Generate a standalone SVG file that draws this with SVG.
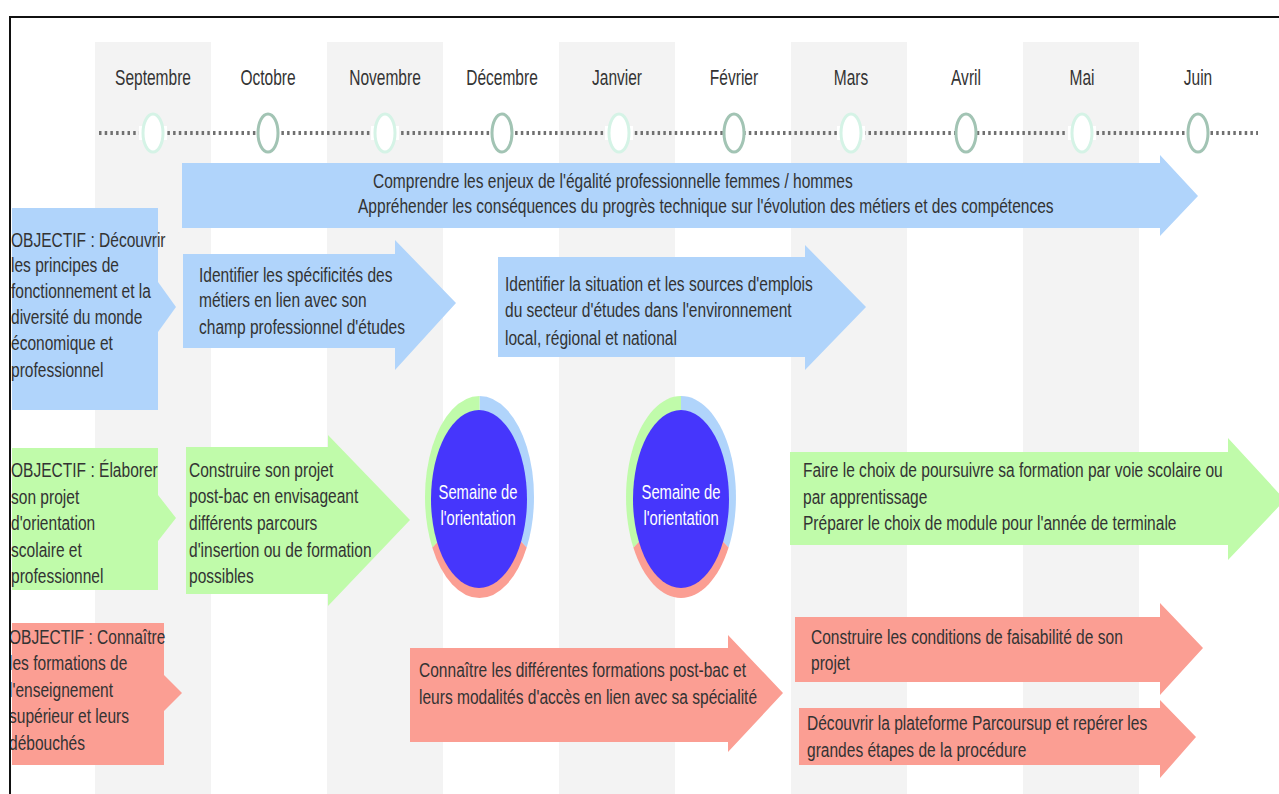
<svg xmlns="http://www.w3.org/2000/svg" width="1279" height="794" viewBox="0 0 1279 794">
<style>
.band{fill:#f3f3f3}
.month{font-family:"Liberation Sans",Arial,sans-serif;font-size:22px;fill:#333;text-anchor:middle}
.t{font-family:"Liberation Sans",Arial,sans-serif;font-size:21px;fill:#333}
.w{font-family:"Liberation Sans",Arial,sans-serif;font-size:21px;fill:#fff;text-anchor:middle}
.blue{fill:#b0d4fb}
.green{fill:#c0fbaa}
.red{fill:#fb9e93}
.cl{fill:#fff;stroke:#d5f3e6;stroke-width:3}
.cd{fill:#fff;stroke:#a2c4b4;stroke-width:3}
.gap{fill:#fff}
.dots{stroke:#707070;stroke-width:4;stroke-dasharray:2.5 3.2;fill:none}
</style>
<rect width="1279" height="794" fill="#fff"/>
<g id="bands">
<rect class="band" x="95" y="42" width="116" height="760"/>
<rect class="band" x="327" y="42" width="116" height="760"/>
<rect class="band" x="559" y="42" width="116" height="760"/>
<rect class="band" x="791" y="42" width="116" height="760"/>
<rect class="band" x="1023" y="42" width="116" height="760"/>
</g>
<g id="months">
<text class="month" transform="matrix(0.706 0 0 1 153 85)">Septembre</text>
<text class="month" transform="matrix(0.706 0 0 1 268 85)">Octobre</text>
<text class="month" transform="matrix(0.706 0 0 1 385 85)">Novembre</text>
<text class="month" transform="matrix(0.706 0 0 1 502 85)">Décembre</text>
<text class="month" transform="matrix(0.706 0 0 1 617 85)">Janvier</text>
<text class="month" transform="matrix(0.706 0 0 1 734 85)">Février</text>
<text class="month" transform="matrix(0.706 0 0 1 851 85)">Mars</text>
<text class="month" transform="matrix(0.706 0 0 1 966 85)">Avril</text>
<text class="month" transform="matrix(0.706 0 0 1 1082 85)">Mai</text>
<text class="month" transform="matrix(0.706 0 0 1 1198 85)">Juin</text>
</g>
<g id="timeline">
<line class="dots" x1="99" y1="133" x2="1258" y2="133"/>
<rect class="gap" x="139" y="126" width="28" height="14"/>
<rect class="gap" x="371" y="126" width="28" height="14"/>
<rect class="gap" x="605" y="126" width="28" height="14"/>
<rect class="gap" x="837" y="126" width="28" height="14"/>
<rect class="gap" x="1068" y="126" width="28" height="14"/>
<ellipse class="cl" cx="153" cy="133" rx="10" ry="19"/>
<ellipse class="cd" cx="268" cy="133" rx="10" ry="19"/>
<ellipse class="cl" cx="385" cy="133" rx="10" ry="19"/>
<ellipse class="cd" cx="502" cy="133" rx="10" ry="19"/>
<ellipse class="cl" cx="619" cy="133" rx="10" ry="19"/>
<ellipse class="cd" cx="734" cy="133" rx="10" ry="19"/>
<ellipse class="cl" cx="851" cy="133" rx="10" ry="19"/>
<ellipse class="cd" cx="966" cy="133" rx="10" ry="19"/>
<ellipse class="cl" cx="1082" cy="133" rx="10" ry="19"/>
<ellipse class="cd" cx="1198" cy="133" rx="10" ry="19"/>
</g>
<g id="obj-blue">
<rect class="blue" x="12" y="208" width="146" height="202"/>
<polygon class="blue" points="158,282 176,307 158,332"/>
<text class="t" transform="matrix(0.74 0 0 1 11 247)">OBJECTIF : Découvrir</text>
<text class="t" transform="matrix(0.74 0 0 1 11 272)">les principes de</text>
<text class="t" transform="matrix(0.74 0 0 1 11 298)">fonctionnement et la</text>
<text class="t" transform="matrix(0.74 0 0 1 11 324)">diversité du monde</text>
<text class="t" transform="matrix(0.74 0 0 1 11 350)">économique et</text>
<text class="t" transform="matrix(0.74 0 0 1 11 377)">professionnel</text>
</g>
<g id="arrow-egalite">
<polygon class="blue" points="182,163 1160,163 1160,155 1198,196 1160,236 1160,228 182,228"/>
<text class="t" transform="matrix(0.74 0 0 1 373 188)">Comprendre les enjeux de l'égalité professionnelle femmes / hommes</text>
<text class="t" transform="matrix(0.74 0 0 1 358 213)">Appréhender les conséquences du progrès technique sur l'évolution des métiers et des compétences</text>
</g>
<g id="arrow-metiers">
<polygon class="blue" points="183,254 395,254 395,240 456,303 395,370 395,348 183,348"/>
<text class="t" transform="matrix(0.74 0 0 1 199 282)">Identifier les spécificités des</text>
<text class="t" transform="matrix(0.74 0 0 1 199 307)">métiers en lien avec son</text>
<text class="t" transform="matrix(0.74 0 0 1 199 334)">champ professionnel d'études</text>
</g>
<g id="arrow-emplois">
<polygon class="blue" points="498,257 805,257 805,245 866,307 805,370 805,357 498,357"/>
<text class="t" transform="matrix(0.74 0 0 1 505 291)">Identifier la situation et les sources d'emplois</text>
<text class="t" transform="matrix(0.74 0 0 1 505 317)">du secteur d'études dans l'environnement</text>
<text class="t" transform="matrix(0.74 0 0 1 505 345)">local, régional et national</text>
</g>
<g id="obj-green">
<rect class="green" x="12" y="448" width="146" height="142"/>
<polygon class="green" points="158,495 176,518 158,541"/>
<text class="t" transform="matrix(0.74 0 0 1 11 477)">OBJECTIF : Élaborer</text>
<text class="t" transform="matrix(0.74 0 0 1 11 504)">son projet</text>
<text class="t" transform="matrix(0.74 0 0 1 11 530)">d'orientation</text>
<text class="t" transform="matrix(0.74 0 0 1 11 557)">scolaire et</text>
<text class="t" transform="matrix(0.74 0 0 1 11 583)">professionnel</text>
</g>
<g id="arrow-projet">
<polygon class="green" points="186,447 328,447 328,435 410,520 328,606 328,594 186,594"/>
<text class="t" transform="matrix(0.74 0 0 1 189 477)">Construire son projet</text>
<text class="t" transform="matrix(0.74 0 0 1 189 503)">post-bac en envisageant</text>
<text class="t" transform="matrix(0.74 0 0 1 189 530)">différents parcours</text>
<text class="t" transform="matrix(0.74 0 0 1 189 557)">d'insertion ou de formation</text>
<text class="t" transform="matrix(0.74 0 0 1 189 583)">possibles</text>
</g>
<g id="semaine-1">
<path d="M479.5,497 L479.5,396 A54.5,101 0 0 1 526.7,547.5 Z" fill="#b0d4fb"/>
<path d="M479.5,497 L526.7,547.5 A54.5,101 0 0 1 432.3,547.5 Z" fill="#fb9e93"/>
<path d="M479.5,497 L432.3,547.5 A54.5,101 0 0 1 479.5,396 Z" fill="#c0fbaa"/>
<ellipse cx="479" cy="499" rx="48" ry="89" fill="#4636fc"/>
<text class="w" transform="matrix(0.705 0 0 1 478 499)">Semaine de</text>
<text class="w" transform="matrix(0.705 0 0 1 478 525)">l'orientation</text>
</g>
<g id="semaine-2">
<path d="M681,497 L681,396 A55,101 0 0 1 728.6,547.5 Z" fill="#b0d4fb"/>
<path d="M681,497 L728.6,547.5 A55,101 0 0 1 633.4,547.5 Z" fill="#fb9e93"/>
<path d="M681,497 L633.4,547.5 A55,101 0 0 1 681,396 Z" fill="#c0fbaa"/>
<ellipse cx="681" cy="499" rx="48" ry="89" fill="#4636fc"/>
<text class="w" transform="matrix(0.705 0 0 1 681 499)">Semaine de</text>
<text class="w" transform="matrix(0.705 0 0 1 681 525)">l'orientation</text>
</g>
<g id="arrow-choix">
<polygon class="green" points="790,452 1228,452 1228,438 1285,500 1228,560 1228,545 790,545"/>
<text class="t" transform="matrix(0.74 0 0 1 803 477)">Faire le choix de poursuivre sa formation par voie scolaire ou</text>
<text class="t" transform="matrix(0.74 0 0 1 803 504)">par apprentissage</text>
<text class="t" transform="matrix(0.74 0 0 1 803 530)">Préparer le choix de module pour l'année de terminale</text>
</g>
<g id="obj-red">
<rect class="red" x="12" y="623" width="152" height="142"/>
<polygon class="red" points="164,675 182,693 164,711"/>
<text class="t" transform="matrix(0.74 0 0 1 9 644)">OBJECTIF : Connaître</text>
<text class="t" transform="matrix(0.74 0 0 1 9 670)">les formations de</text>
<text class="t" transform="matrix(0.74 0 0 1 9 697)">l'enseignement</text>
<text class="t" transform="matrix(0.74 0 0 1 9 723)">supérieur et leurs</text>
<text class="t" transform="matrix(0.74 0 0 1 9 750)">débouchés</text>
</g>
<g id="arrow-formations">
<polygon class="red" points="410,648 728,648 728,635 783,693 728,752 728,742 410,742"/>
<text class="t" transform="matrix(0.74 0 0 1 419 677)">Connaître les différentes formations post-bac et</text>
<text class="t" transform="matrix(0.74 0 0 1 419 704)">leurs modalités d'accès en lien avec sa spécialité</text>
</g>
<g id="arrow-faisabilite">
<polygon class="red" points="795,617 1160,617 1160,603 1203,648 1160,695 1160,682 795,682"/>
<text class="t" transform="matrix(0.74 0 0 1 811 644)">Construire les conditions de faisabilité de son</text>
<text class="t" transform="matrix(0.74 0 0 1 811 670)">projet</text>
</g>
<g id="arrow-parcoursup">
<polygon class="red" points="799,708 1160,708 1160,700 1196,737 1160,778 1160,765 799,765"/>
<text class="t" transform="matrix(0.74 0 0 1 807 730)">Découvrir la plateforme Parcoursup et repérer les</text>
<text class="t" transform="matrix(0.74 0 0 1 807 757)">grandes étapes de la procédure</text>
</g>
<g id="connectors"></g>
<rect x="10" y="17" width="1290" height="800" fill="none" stroke="#111" stroke-width="2"/>
</svg>
